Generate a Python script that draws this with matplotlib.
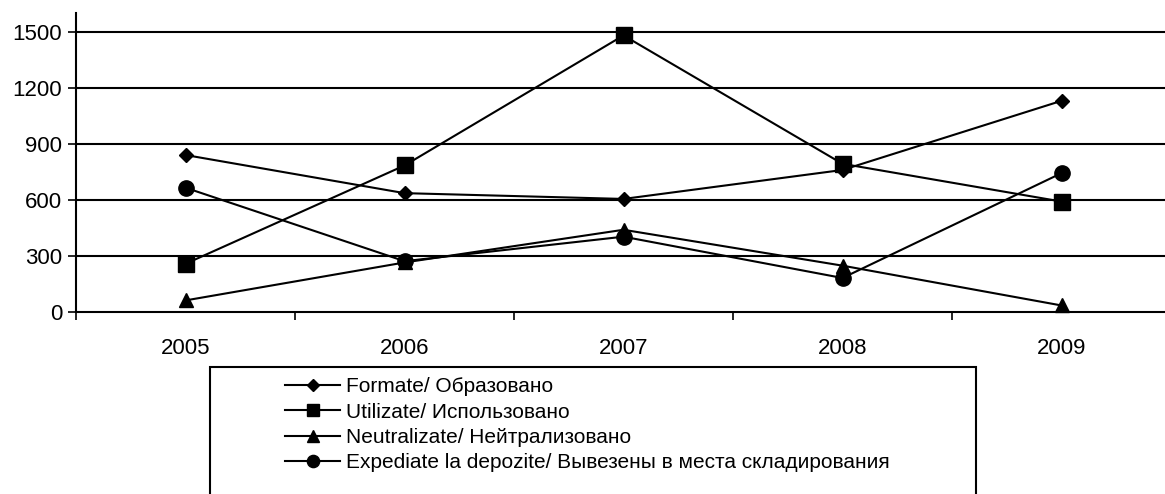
"""
Waste dynamics 2005-2009, line chart with category x axis
"""

import matplotlib.pyplot as plt
from matplotlib.patches import Rectangle


years = ['2005', '2006', '2007', '2008', '2009']

formate = [840, 636, 605, 760, 1130]
utilizate = [258, 784, 1480, 793, 591]
neutralizate = [62, 265, 440, 248, 35]
expediate = [665, 272, 403, 182, 743]

labels = ['Formate/ Образовано',
          'Utilizate/ Использовано',
          'Neutralizate/ Нейтрализовано',
          'Expediate la depozite/ Вывезены в места складирования']

y_ticks = [0, 300, 600, 900, 1200, 1500]


plt.rcParams['font.family'] = ['Liberation Sans', 'DejaVu Sans']

fig = plt.figure(figsize=(11.65, 4.94), dpi=100)
ax = fig.add_axes([76/1165, 182/494, 1095/1165, 299/494])

x = [i + 0.5 for i in range(len(years))]
series = [formate, utilizate, neutralizate, expediate]
markers = ['D', 's', '^', 'o']
sizes = [7.5, 11, 10, 11]

for vals, m, ms, lab in zip(series, markers, sizes, labels):
    ax.plot(x, vals, color='black', lw=1.5, marker=m, ms=ms,
            markerfacecolor='black', markeredgecolor='black', label=lab,
            clip_on=False, zorder=3)

ax.set_xlim(0, 5)
ax.set_ylim(0, 1600)
ax.set_yticks(y_ticks)
ax.set_yticklabels([str(v) for v in y_ticks], fontsize=16)
for v in y_ticks[1:]:
    ax.axhline(v, color='black', lw=1.5, zorder=1)

ax.set_xticks(range(6))
ax.set_xticklabels([])
ax.set_xticks(x, minor=True)
ax.set_xticklabels(years, minor=True, fontsize=16)
ax.tick_params(axis='x', which='major', direction='out', length=6,
               width=1.2)
ax.tick_params(axis='x', which='minor', length=0, pad=19)
ax.tick_params(axis='y', direction='out', length=6, width=1.2, pad=4)

for s in ['top', 'right']:
    ax.spines[s].set_visible(False)
for s in ['left', 'bottom']:
    ax.spines[s].set_linewidth(1.5)

# legend box, bottom cut by figure edge
fig.patches.append(Rectangle((210/1165, -0.05), 766/1165, 0.05 + 127/494,
                             transform=fig.transFigure, fill=False,
                             edgecolor='black', lw=1.5, clip_on=False))

leg = fig.legend(loc='upper left', bbox_to_anchor=(275/1165, 1 - 367/494),
                 frameon=False, fontsize=15, handlelength=2.6,
                 handletextpad=0.3, labelspacing=0.3, borderpad=0,
                 markerscale=0.8)

plt.savefig('out.png', dpi=100)
